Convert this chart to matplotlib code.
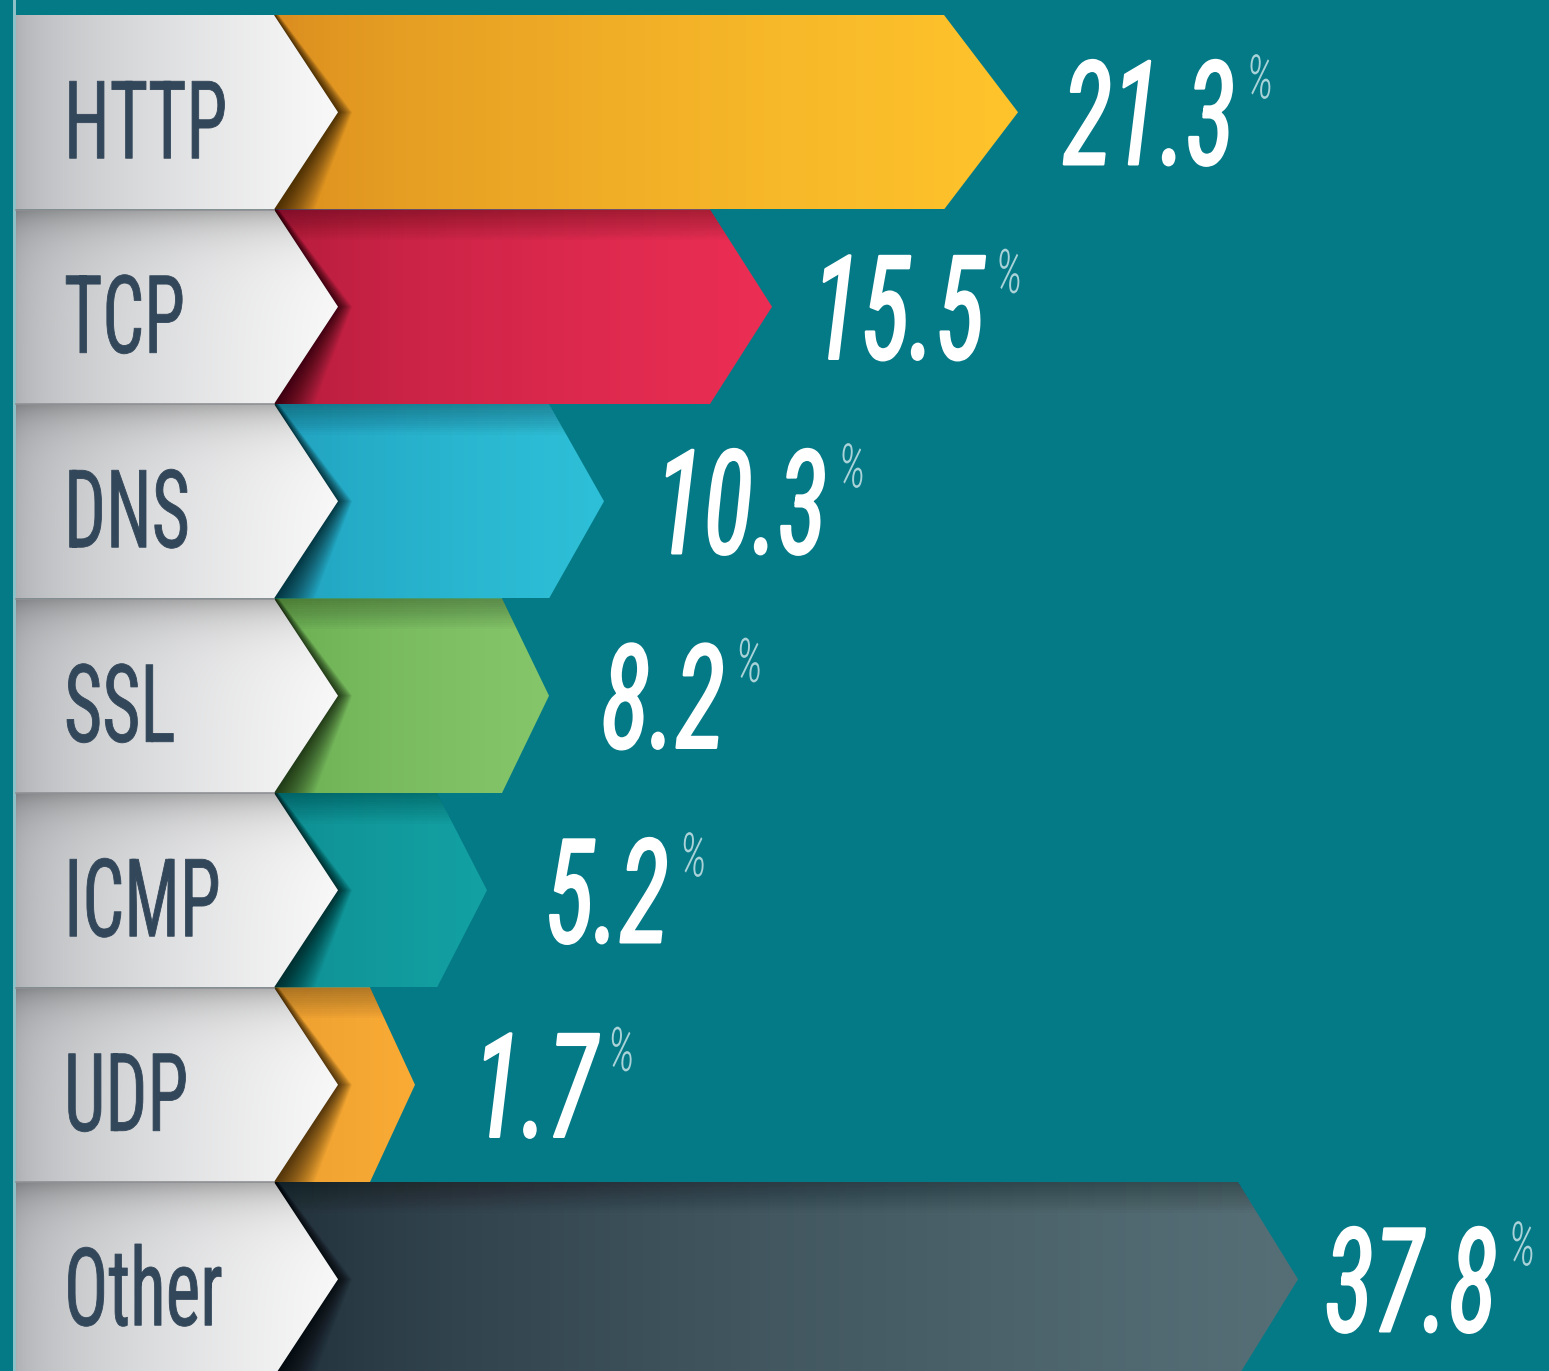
import numpy as np
import matplotlib
matplotlib.use('Agg')
import matplotlib.pyplot as plt
from matplotlib import font_manager
from matplotlib.patches import Polygon, Rectangle
from matplotlib.colors import to_rgb
from matplotlib.patheffects import AbstractPathEffect
from matplotlib.transforms import Affine2D

# data
labels = ['HTTP', 'TCP', 'DNS', 'SSL', 'ICMP', 'UDP', 'Other']
values = [21.3, 15.5, 10.3, 8.2, 5.2, 1.7, 37.8]
# where each arrow ends (bars are not drawn to a linear scale in the original)
bar_tip = [1018, 772, 604, 549, 487, 415, 1298]

# styling
bar_dark = ['#D8891E', '#AE1A3A', '#1E9CBA', '#66AA4E', '#0E8A8E', '#E89C2E', '#1D2B36']
bar_light = ['#FFC42C', '#EC2E54', '#2EC0D8', '#86C66A', '#13A1A3', '#F9AB35', '#566F77']
tip_depth = [74, 62, 55, 47, 50, 45, 60]
value_gap = [45, 40, 51, 52, 58, 58, 27]
BG = '#057A87'
LABEL_COL = '#33475A'

W, H = 1549, 1371
ROW_TOP = 15
ROW_H = 194.5
PANEL_X0 = 16
PANEL_X1 = 274
PANEL_TIP = 338

names = {f.name for f in font_manager.fontManager.ttflist}
font_kw = dict(family='DejaVu Sans', fontstretch='condensed')
for fam in ['Roboto Condensed', 'Liberation Sans Narrow']:
    if fam in names:
        font_kw = dict(family=fam)
        break


class Stretch(AbstractPathEffect):
    """make the glyphs taller (from the baseline) so the text reads narrow,
    optionally thickening the strokes a little"""
    def __init__(self, sy, lw=0.0):
        super().__init__()
        self.sy = sy
        self.lw = lw

    def draw_path(self, renderer, gc, tpath, affine, rgbFace=None):
        gc0 = renderer.new_gc()
        gc0.copy_properties(gc)
        if self.lw and rgbFace is not None:
            gc0.set_linewidth(self.lw)
            gc0.set_foreground(rgbFace)
            gc0.set_joinstyle('round')
        renderer.draw_path(gc0, tpath, Affine2D().scale(1, self.sy) + affine, rgbFace)
        gc0.restore()


LAB_SY = 1.47
NUM_SY = 1.42

fig = plt.figure(figsize=(W / 100, H / 100), dpi=100)
fig.patch.set_facecolor(BG)
ax = fig.add_axes([0, 0, 1, 1])
ax.set_xlim(0, W)
ax.set_ylim(H, 0)
ax.axis('off')
ax.set_facecolor(BG)

ax.add_patch(Rectangle((13.5, 0), 2.5, H, color='#8CC2C7', lw=0, zorder=1))


def hgrad(c0, c1, n=256, gamma=1.0):
    t = np.linspace(0, 1, n) ** gamma
    a, b = np.array(to_rgb(c0)), np.array(to_rgb(c1))
    return (a[None, :] * (1 - t[:, None]) + b[None, :] * t[:, None])[None, :, :]


for i, lab in enumerate(labels):
    top = ROW_TOP + i * ROW_H
    bot = top + ROW_H
    mid = (top + bot) / 2
    tip = bar_tip[i]
    d = tip_depth[i]

    # colored arrow
    bar_poly = Polygon([(PANEL_X1 - 4, top), (tip - d, top), (tip, mid),
                        (tip - d, bot), (PANEL_X1 - 4, bot)],
                       closed=True, transform=ax.transData)
    im = ax.imshow(hgrad(bar_dark[i], bar_light[i], gamma=0.6),
                   extent=(PANEL_X1 - 4, tip, bot, top), aspect='auto',
                   interpolation='bilinear', zorder=2)
    im.set_clip_path(bar_poly)

    # shadow thrown by the chevron, wider toward the bottom
    for k in range(30):
        off = k * 1.4
        sh = Polygon([(PANEL_X0, top), (PANEL_X1 + 0.12 * off, top),
                      (PANEL_TIP + 0.35 * off, mid), (PANEL_X1 + off, bot),
                      (PANEL_X0, bot)],
                     closed=True, facecolor='black', alpha=0.03, lw=0, zorder=3)
        ax.add_patch(sh)
        sh.set_clip_path(bar_poly)
    # shadow under the row above
    if i > 0:
        for k in range(14):
            sh = Rectangle((PANEL_X1 - 4, top), tip - PANEL_X1 + 4, 2 + k * 2.2,
                           facecolor='black', alpha=0.02, lw=0, zorder=3)
            ax.add_patch(sh)
            sh.set_clip_path(bar_poly)

    # white label panel
    pw = int(PANEL_TIP - PANEL_X0)
    ph = int(ROW_H)
    xs = np.linspace(0, 1, pw) ** 0.55
    c0, c1 = np.array(to_rgb('#ACAEB2')), np.array(to_rgb('#F9F9F9'))
    img = c0[None, None, :] * (1 - xs[None, :, None]) + c1[None, None, :] * xs[None, :, None]
    img = np.repeat(img, ph, axis=0)
    if i > 0:
        ys = np.arange(ph)
        shade = 1 - 0.28 * np.exp(-ys / 22.0)
        img = img * shade[:, None, None]
    panel_poly = Polygon([(PANEL_X0, top), (PANEL_X1, top), (PANEL_TIP, mid),
                          (PANEL_X1, bot), (PANEL_X0, bot)],
                         closed=True, transform=ax.transData)
    pim = ax.imshow(img, extent=(PANEL_X0, PANEL_TIP, bot, top), aspect='auto',
                    interpolation='bilinear', zorder=4)
    pim.set_clip_path(panel_poly)
    if i > 0:
        ax.plot([PANEL_X0, PANEL_X1], [top, top], color='#8E9094', lw=1.2, zorder=5)

    ax.text(64, mid + 46, lab, color=LABEL_COL, fontsize=78 / LAB_SY,
            fontweight='normal', va='baseline', ha='left', zorder=6,
            path_effects=[Stretch(LAB_SY, 0.6)], **font_kw)

    num = ax.text(tip + value_gap[i], mid + 52, f'{values[i]:.1f}', color='white',
                  fontsize=104 / NUM_SY, fontstyle='italic', fontweight='normal',
                  va='baseline', ha='left', zorder=6,
                  path_effects=[Stretch(NUM_SY, 1.8)], **font_kw)
    ax.annotate('%', xy=(1, mid - 47), xycoords=(num, 'data'), xytext=(8, 0),
                textcoords='offset points', color='#A9D3D8', fontsize=44 / 1.4,
                fontweight='light', fontstyle='italic', va='top', ha='left',
                zorder=6, path_effects=[Stretch(1.4)], **font_kw)

fig.savefig('out.png', dpi=100, facecolor=BG)
